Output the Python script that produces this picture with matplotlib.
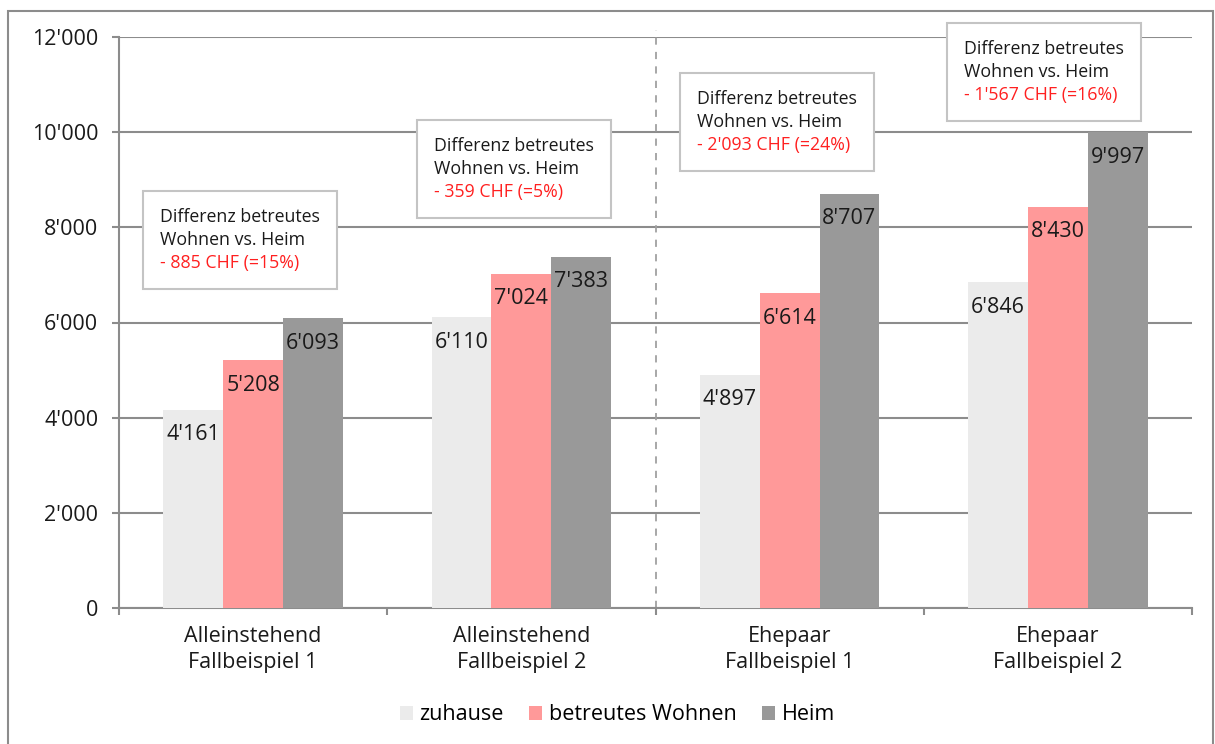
import matplotlib
matplotlib.use("Agg")
import matplotlib.pyplot as plt
from matplotlib.ticker import FuncFormatter
from matplotlib.patches import Rectangle
from matplotlib.offsetbox import TextArea, VPacker, AnnotationBbox
import numpy as np

plt.rcParams['font.family'] = ['Open Sans', 'DejaVu Sans']

# data
groups = ['Alleinstehend\nFallbeispiel 1', 'Alleinstehend\nFallbeispiel 2',
          'Ehepaar\nFallbeispiel 1', 'Ehepaar\nFallbeispiel 2']
series = ['zuhause', 'betreutes Wohnen', 'Heim']
zuhause = [4161, 6110, 4897, 6846]
betreut = [5208, 7024, 6614, 8430]
heim = [6093, 7383, 8707, 9997]
diff_text = ['- 885 CHF (=15%)', '- 359 CHF (=5%)', '- 2\'093 CHF (=24%)', '- 1\'567 CHF (=16%)']
# top-left corner of the text inside the annotation boxes, in data units
box_x = [-0.347, 0.674, 1.655, 2.65]
box_y = [8406, 9898, 10886, 11937]

colors = ['#ebebeb', '#ff9999', '#999999']
grid_col = '#8c8c8c'
txt_col = '#1a1a1a'


def fmt(v):
    return f"{int(v):,}".replace(',', "'")


fig = plt.figure(figsize=(12.15, 7.44), dpi=100)
ax = fig.add_axes([119 / 1215, 1 - 608 / 744, (1192 - 119) / 1215, (608 - 37) / 744])

# outer frame of the picture
fig.patches.append(Rectangle((8 / 1215, -0.05), 1205 / 1215, 1.05 - 11 / 744,
                             transform=fig.transFigure, fill=False,
                             edgecolor='#8c8c8c', lw=1.5))

x = np.arange(len(groups))
w = 0.223
values = [zuhause, betreut, heim]
for i, (name, vals) in enumerate(zip(series, values)):
    pos = x + (i - 1) * w
    ax.bar(pos, vals, width=w, color=colors[i], label=name, zorder=3)
    for p, v in zip(pos, vals):
        ax.text(p, v - 525, fmt(v), ha='center', va='center', fontsize=15.5,
                color=txt_col, zorder=5)

ax.set_xlim(-0.5, 3.5)
ax.set_ylim(0, 12000)
ax.set_yticks(range(0, 12001, 2000))
ax.yaxis.set_major_formatter(FuncFormatter(lambda v, p: fmt(v)))
ax.yaxis.grid(True, color=grid_col, lw=1.5, zorder=0)
ax.set_xticks(x)
ax.set_xticklabels(groups, fontsize=15.5, color=txt_col, linespacing=1.3)
ax.set_xticks(np.arange(-0.5, 3.6, 1), minor=True)
ax.tick_params(axis='x', which='major', length=0, pad=13)
ax.tick_params(axis='x', which='minor', length=5, color=grid_col, width=1.5)
ax.tick_params(axis='y', length=5, color=grid_col, width=1.5, labelsize=15.5,
               labelcolor=txt_col, pad=10)
for s in ['top', 'right']:
    ax.spines[s].set_visible(False)
for s in ['left', 'bottom']:
    ax.spines[s].set_color(grid_col)
    ax.spines[s].set_linewidth(1.5)

# dashed separator between single persons and couples
ax.plot([1.5, 1.5], [0, 12150], ls=(0, (4, 4)), color='#a0a0a0', lw=1.3,
        clip_on=False, zorder=2)

# annotation boxes: two black lines and one red line in one frame
for bx, by, t in zip(box_x, box_y, diff_text):
    black = TextArea('Differenz betreutes\nWohnen vs. Heim',
                     textprops=dict(fontsize=12.8, color=txt_col, linespacing=1.35))
    red = TextArea(t, textprops=dict(fontsize=12.8, color='#ff2020'))
    pack = VPacker(children=[black, red], align='left', pad=0, sep=4)
    ab = AnnotationBbox(pack, (bx, by), xycoords='data', box_alignment=(0, 1),
                        frameon=True, pad=0.95, fontsize=12.8, annotation_clip=False,
                        bboxprops=dict(fc='white', ec='#c4c4c4', lw=1.5),
                        zorder=6)
    ax.add_artist(ab)

fig.legend(loc='center', bbox_to_anchor=(0.508, 1 - 715 / 744), ncol=3, frameon=False,
           fontsize=15.5, handlelength=0.6, handleheight=0.6, handletextpad=0.3,
           columnspacing=1.2)

fig.savefig('out.png', dpi=100)
